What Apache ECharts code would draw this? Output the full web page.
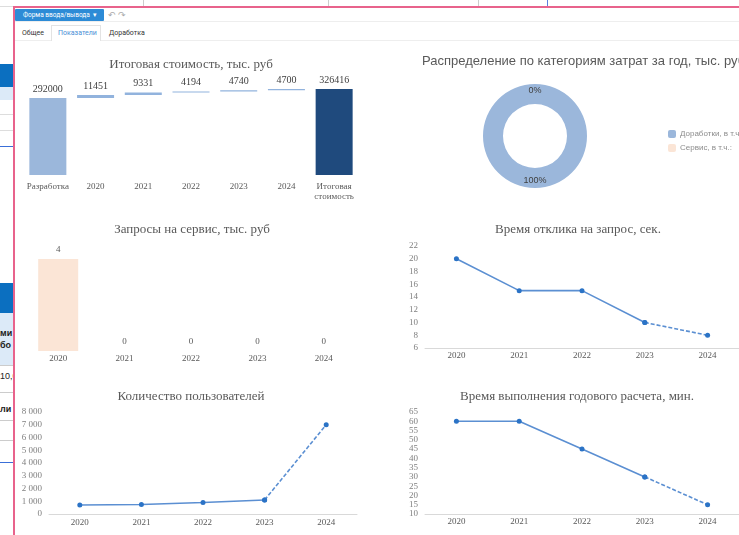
<!DOCTYPE html>
<html>
<head>
<meta charset="utf-8">
<script src="https://cdn.jsdelivr.net/npm/echarts@6/dist/echarts.min.js"></script>
<style>
body{margin:0;width:739px;height:535px;overflow:hidden;background:#fff;position:relative;font-family:Roboto,'Liberation Sans',sans-serif}
.a{position:absolute}
#chart{position:absolute;left:0;top:0;width:739px;height:535px}
</style>
</head>
<body>
<!-- background page: table row above and left pane -->
<div class="a" style="left:0;top:6px;width:739px;height:1px;background:#ddd"></div>
<div class="a" style="left:143px;top:0;width:1px;height:6px;background:#ccc"></div>
<div class="a" style="left:328px;top:0;width:1px;height:6px;background:#ccc"></div>
<div class="a" style="left:478px;top:0;width:1px;height:6px;background:#ccc"></div>
<div class="a" style="left:547px;top:0;width:1px;height:6px;background:#5b7fe0"></div>

<div class="a" style="left:0;top:64px;width:13px;height:23px;background:#0b6fc0"></div>
<div class="a" style="left:0;top:87px;width:13px;height:13px;background:#dceaf8"></div>
<div class="a" style="left:0;top:114px;width:13px;height:1px;background:#ddd"></div>
<div class="a" style="left:0;top:130px;width:13px;height:1px;background:#ddd"></div>
<div class="a" style="left:0;top:146px;width:13px;height:1px;background:#3a6fd8"></div>

<div class="a" style="left:0;top:283px;width:13px;height:30px;background:#0b6fc0"></div>
<div class="a" style="left:0;top:313px;width:13px;height:52px;background:#dceaf8;overflow:hidden;font:bold 9px 'Liberation Sans';color:#222;line-height:12px">
  <div style="padding-top:14px">ми<br>бо</div>
</div>
<div class="a" style="left:0;top:365px;width:13px;height:1px;background:#ccc"></div>
<div class="a" style="left:0;top:371px;width:13px;height:14px;overflow:hidden;font:9px 'Liberation Sans';color:#222;white-space:nowrap">10,0</div>
<div class="a" style="left:0;top:392px;width:13px;height:1px;background:#ccc"></div>
<div class="a" style="left:0;top:404px;width:13px;height:14px;overflow:hidden;font:bold 9px 'Liberation Sans';color:#222;white-space:nowrap">ли</div>
<div class="a" style="left:0;top:420px;width:13px;height:1px;background:#ccc"></div>
<div class="a" style="left:0;top:440px;width:13px;height:1px;background:#ccc"></div>
<div class="a" style="left:0;top:462px;width:13px;height:1px;background:#3a6fd8"></div>

<!-- form frame -->
<div class="a" style="left:13px;top:6px;width:726px;height:2px;background:#e8638c"></div>
<div class="a" style="left:13px;top:6px;width:2px;height:529px;background:#e8638c"></div>
<div class="a" style="left:15px;top:9px;width:89px;height:12px;background:#2d8bd6;border-radius:1px;color:#fff;font-size:6.5px;line-height:12px;padding-left:8px;box-sizing:border-box;white-space:nowrap">Форма ввода/вывода &nbsp;▾</div>
<div class="a" style="left:108px;top:9px;font-size:9px;color:#aaa;line-height:12px">↶ ↷</div>
<div class="a" style="left:15px;top:21px;width:724px;height:1px;background:#eee"></div>
<div class="a" style="left:51px;top:25px;width:50px;height:16px;border:1px solid #e3e3e3;border-bottom:none;box-sizing:border-box;background:#fff"></div>
<div class="a" style="left:15px;top:40px;width:36px;height:1px;background:#eee"></div>
<div class="a" style="left:101px;top:40px;width:638px;height:1px;background:#eee"></div>
<div class="a" style="left:22px;top:28px;font-size:7px;color:#333;line-height:10px">Общее</div>
<div class="a" style="left:58px;top:28px;font-size:7px;color:#4a8fd6;line-height:10px">Показатели</div>
<div class="a" style="left:109px;top:28px;font-size:7px;color:#333;line-height:10px">Доработка</div>

<div id="chart"></div>
<script>
// Итоговая стоимость (водопад)
var costCats = ['Разработка', '2020', '2021', '2022', '2023', '2024', 'Итоговая\nстоимость'];
var costValues = [292000, 11451, 9331, 4194, 4740, 4700, 326416];

// Распределение по категориям затрат
var pieNames = ['Доработки, в т.ч.:', 'Сервис, в т.ч.:'];
var pieValues = [4700, 0];

var years = ['2020', '2021', '2022', '2023', '2024'];
var serviceValues = [4, 0, 0, 0, 0];
var responseTime = [20, 15, 15, 10, 8];
var usersCount = [700, 750, 900, 1100, 7000];
var calcTime = [60, 60, 45, 30, 15];

var serif = 'Liberation Serif';
var lineColor = '#5b8fd2';
var dotColor = '#2b73c6';

// невидимое основание водопада
var costBase = [];
var acc = 0;
for (var i = 0; i < costValues.length; i++) {
    if (i === 0 || i === costValues.length - 1) {
        costBase.push(0);
    } else {
        costBase.push(acc);
    }
    if (i < costValues.length - 1) acc += costValues[i];
}
var costColors = ['#9bb7db', '#92b3dd', '#92b3dd', '#92b3dd', '#92b3dd', '#92b3dd', '#1f4a7d'];

// факт сплошной, последний отрезок пунктиром
function solidPart(arr) {
    return arr.map(function (v, i) { return i < arr.length - 1 ? v : null; });
}
function dashPart(arr) {
    return arr.map(function (v, i) { return i >= arr.length - 2 ? v : null; });
}
function lineSeries(arr, idx) {
    return [{
        type: 'line', xAxisIndex: idx, yAxisIndex: idx, data: solidPart(arr),
        symbol: 'circle', symbolSize: 5, silent: true,
        lineStyle: { color: lineColor, width: 1.6 },
        itemStyle: { color: dotColor }
    }, {
        type: 'line', xAxisIndex: idx, yAxisIndex: idx, data: dashPart(arr),
        symbol: 'circle', symbolSize: 5, silent: true,
        lineStyle: { color: lineColor, width: 1.6, type: [4, 2] },
        itemStyle: { color: dotColor }
    }];
}

var titleStyle = { fontFamily: serif, fontSize: 13, fontWeight: 'normal', color: '#595959' };
var xLabel = { fontFamily: serif, fontSize: 9, color: '#595959' };
var yLabel = { fontFamily: serif, fontSize: 9, color: '#7f7f7f', margin: 7 };

var myChart = echarts.init(document.getElementById('chart'));
myChart.setOption({
    backgroundColor: 'transparent',
    animation: false,
    title: [
        { text: 'Итоговая стоимость, тыс. руб', left: 191, top: 58, textAlign: 'center', padding: 0, textStyle: titleStyle },
        { text: 'Распределение по категориям затрат за год, тыс. руб', left: 422, top: 55, padding: 0,
          textStyle: { fontFamily: 'Liberation Sans', fontSize: 13, fontWeight: 'normal', color: '#595959' } },
        { text: 'Запросы на сервис, тыс. руб', left: 192, top: 223, textAlign: 'center', padding: 0, textStyle: titleStyle },
        { text: 'Время отклика на запрос, сек.', left: 578, top: 223, textAlign: 'center', padding: 0, textStyle: titleStyle },
        { text: 'Количество пользователей', left: 191, top: 390, textAlign: 'center', padding: 0, textStyle: titleStyle },
        { text: 'Время выполнения годового расчета, мин.', left: 577, top: 390, textAlign: 'center', padding: 0, textStyle: titleStyle }
    ],
    legend: {
        orient: 'vertical', left: 663, top: 125, itemWidth: 8, itemHeight: 8, itemGap: 6,
        data: pieNames, selectedMode: false,
        textStyle: { fontFamily: 'Liberation Sans', fontSize: 8, color: '#8c8c8c', padding: [0, 0, 0, -1] }
    },
    grid: [
        { left: 24, width: 334, top: 89, height: 86 },
        { left: 25, width: 332, top: 259, height: 92 },
        { left: 425, width: 318, top: 246, height: 102 },
        { left: 49, width: 308, top: 412, height: 102 },
        { left: 425, width: 318, top: 412, height: 102 }
    ],
    xAxis: [
        { gridIndex: 0, type: 'category', data: costCats, axisLine: { show: false }, axisTick: { show: false },
          axisLabel: Object.assign({ margin: 7, lineHeight: 10, interval: 0 }, xLabel) },
        { gridIndex: 1, type: 'category', data: years, axisLine: { show: false }, axisTick: { show: false },
          axisLabel: Object.assign({ margin: 3 }, xLabel) },
        { gridIndex: 2, type: 'category', data: years, axisLine: { lineStyle: { color: '#d9d9d9' } }, axisTick: { show: false },
          axisLabel: Object.assign({ margin: 3 }, xLabel) },
        { gridIndex: 3, type: 'category', data: years, axisLine: { lineStyle: { color: '#d9d9d9' } }, axisTick: { show: false },
          axisLabel: Object.assign({ margin: 4 }, xLabel) },
        { gridIndex: 4, type: 'category', data: years, axisLine: { lineStyle: { color: '#d9d9d9' } }, axisTick: { show: false },
          axisLabel: Object.assign({ margin: 3 }, xLabel) }
    ],
    yAxis: [
        { gridIndex: 0, show: false, min: 0, max: costValues[costValues.length - 1] },
        { gridIndex: 1, show: false, min: 0, max: Math.max.apply(null, serviceValues) },
        { gridIndex: 2, min: 6, max: 22, interval: 2, splitLine: { show: false }, axisLabel: yLabel },
        { gridIndex: 3, min: 0, max: 8000, interval: 1000, splitLine: { show: false },
          axisLabel: Object.assign({
              formatter: function (v) { return String(v).replace(/\B(?=(\d{3})+(?!\d))/g, ' '); }
          }, yLabel) },
        { gridIndex: 4, min: 10, max: 65, interval: 5, splitLine: { show: false }, axisLabel: yLabel }
    ],
    series: [
        {
            type: 'bar', xAxisIndex: 0, yAxisIndex: 0, stack: 'cost', data: costBase, barWidth: 37,
            itemStyle: { color: 'transparent' }, silent: true
        },
        {
            type: 'bar', xAxisIndex: 0, yAxisIndex: 0, stack: 'cost', barWidth: 37, silent: true,
            data: costValues.map(function (v, i) { return { value: v, itemStyle: { color: costColors[i] } }; }),
            label: { show: true, position: 'top', distance: 4, fontFamily: serif, fontSize: 10, color: '#404040' }
        },
        {
            type: 'pie', center: [535, 136], radius: [32, 52], startAngle: 90, silent: true,
            data: pieNames.map(function (n, i) { return { name: n, value: pieValues[i] }; }),
            color: ['#9bb7db', '#fbe5d6'],
            label: { show: true, position: 'inside', formatter: '{d}%', fontFamily: 'Liberation Sans', fontSize: 9, color: '#404040' },
            labelLine: { show: false }
        },
        {
            type: 'bar', xAxisIndex: 1, yAxisIndex: 1, data: serviceValues, barWidth: 40, silent: true,
            itemStyle: { color: '#fbe5d6' },
            label: { show: true, position: 'top', distance: 5, fontFamily: serif, fontSize: 9, color: '#595959' }
        }
    ].concat(lineSeries(responseTime, 2), lineSeries(usersCount, 3), lineSeries(calcTime, 4))
});
</script>
</body>
</html>
